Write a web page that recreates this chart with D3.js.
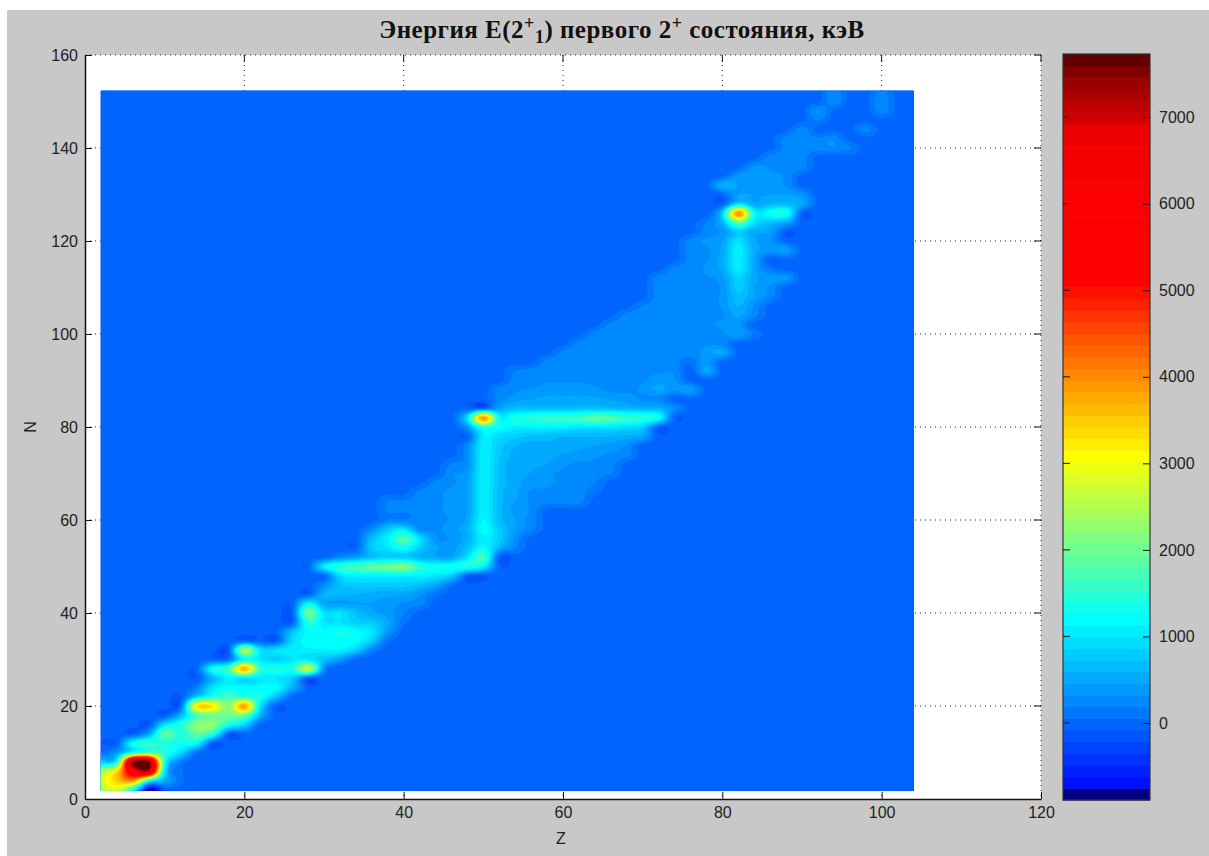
<!DOCTYPE html>
<html>
<head>
<meta charset="utf-8">
<script src="https://cdn.jsdelivr.net/npm/d3@7"></script>
<style>
  html, body { margin: 0; padding: 0; background: #fff; }
  svg { display: block; }
  text { font-family: "Liberation Sans", Arial, sans-serif; fill: #222; }
</style>
</head>
<body>
<div id="chart"></div>
<script>
// even-even nuclei only, so the grid runs in steps of 2
const protons = d3.range(2, 106, 2)
const neutrons = d3.range(2, 154, 2)

// first Z of every row (N = 2, 4, ... 152), the rest of the row is 0
const rowStartZ = [
  2, 2, 2, 2, 2, 2, 6, 8, 10, 12,
  12, 14, 14, 16, 18, 18, 24, 26, 26, 26,
  26, 28, 30, 32, 28, 32, 34, 36, 36, 38,
  38, 38, 42, 44, 46, 46, 48, 46, 48, 46,
  48, 52, 52, 52, 54, 54, 58, 60, 62, 64,
  66, 68, 70, 72, 72, 70, 74, 76, 76, 76,
  78, 78, 78, 80, 80, 80, 82, 84, 86, 88,
  88, 90, 92, 92, 94, 94
]

// E(2+) in keV
const rowEnergy = [
  [2500, 2800, 1400, -850, -100],
  [2800, 3500, 4000, 1500, 600, 100],
  [2400, 3300, 6000, 7000, 1000, 100],
  [800, 1300, 7400, 7500, 1400, 200],
  [100, 400, 1300, 1800, 1500, 900, 100],
  [-80, -40, 1300, 1600, 1400, 1300, 1200, -100],
  [-60, 500, 1900, 1400, 1900, 1500, -50],
  [-100, 1000, 1400, 2235, 2230, 1400, 900, -20],
  [-80, 600, 1700, 2000, 1970, 2000, 600],
  [0, 3300, 3300, 2168, 3900, 1000, -60],
  [-80, 800, 1400, 1700, 1500, 1300, 700],
  [200, 1000, 1200, 1200, 1200, 1200, 600],
  [-80, 600, 1100, 1000, 1000, 1000, 800, -80],
  [1300, 1700, 3832, 1554, 1434, 1408, 2700, 300, -60],
  [100, 1200, 1000, 800, 1000, 1000, 700, 400],
  [-80, 2563, 1000, 1000, 1100, 1100, 1100, 1100, 800, 200],
  [-60, 900, 1200, 1200, 1200, 1200, 800, 100],
  [700, 1200, 1200, 1300, 1200, 1000, 400],
  [-60, 1500, 1000, 1000, 800, 800, 500, 100],
  [-40, 2033, 1000, 1000, 700, 500, 400, 200],
  [-20, 1200, 500, 450, 450, 450, 400, 300, 250],
  [-40, 600, 600, 600, 550, 500, 500, 350, 100],
  [300, 700, 800, 800, 800, 800, 700, 500, 100, -60],
  [900, 1100, 1100, 1100, 1100, 1100, 1000, 800, -40, -80],
  [-20, 1100, 1500, 1700, 1900, 2000, 2186, 1500, 1300, 1300, 1400, 1100, -20],
  [300, 450, 700, 800, 800, 600, 500, 500, 1000, 1700, -80],
  [-20, 800, 1000, 1300, 800, 500, 400, 700, 1200, 600, 200],
  [700, 1100, 1800, 1000, 350, 350, 550, 1100, 800, 300],
  [300, 800, 1000, 300, 300, 400, 600, 1200, 800, 450, 250],
  [200, 200, 250, 250, 350, 500, 1150, 650, 450, 250],
  [200, 200, 250, 300, 350, 450, 1100, 650, 400, 300],
  [200, 200, 250, 300, 350, 450, 1100, 650, 450, 300, 250, 250, 250],
  [250, 300, 350, 450, 1100, 650, 500, 300, 300, 250, 250, 100],
  [250, 300, 450, 1100, 700, 500, 400, 350, 300, 250, 200],
  [300, 400, 1100, 700, 500, 450, 350, 300, 300, 250, 200],
  [200, 300, 1100, 700, 500, 500, 450, 350, 300, 300, 250],
  [300, 1100, 750, 550, 550, 500, 450, 400, 350, 300, 250],
  [-20, 300, 1100, 800, 600, 550, 550, 550, 500, 450, 400, 300],
  [-40, 1100, 900, 800, 700, 700, 600, 600, 600, 600, 550, 500, -40],
  [-20, 400, 1500, 1200, 1100, 1100, 1100, 1100, 1000, 1000, 1000, 900, 800, -40],
  [1000, 4041, 1200, 1400, 1450, 1596, 1576, 1660, 1900, 1800, 1600, 1500, 1300, -20],
  [500, 700, 700, 700, 700, 700, 700, 700, 650, 600, 600, 300],
  [250, 400, 450, 500, 500, 500, 500, 450, 400, 300, 250, -20],
  [250, 300, 350, 400, 400, 400, 350, 300, 300, 350, 500, 350, 450],
  [250, 250, 300, 300, 300, 300, 300, 300, 300, 400, 350],
  [200, 250, 250, 250, 250, 250, 300, 300, 300, 300, 300, -40, 500],
  [250, 250, 250, 250, 250, 250, 250, 300, 250, 100, 400],
  [250, 250, 250, 250, 250, 250, 250, 250, 250, 400, 500],
  [250, 250, 250, 250, 250, 250, 250, 250, 300, 250],
  [250, 250, 250, 250, 250, 250, 250, 250, 300, 450, 150],
  [250, 250, 250, 250, 250, 300, 300, 350, 350],
  [250, 250, 250, 250, 250, 250, 300, 500, 250],
  [200, 250, 250, 250, 250, 350, 600, 300],
  [250, 250, 250, 300, 350, 700, 450, 250],
  [250, 250, 250, 300, 350, 800, 450, 300],
  [0, 250, 250, 250, 300, 400, 850, 500, 400, 400],
  [250, 250, 350, 500, 1050, 500, 150],
  [250, 300, 550, 1050, 500, -60],
  [250, 300, 500, 1100, 550, 400, 450],
  [250, 350, 450, 1000, 500, 350],
  [250, 350, 800, 500, 450, -80],
  [200, 600, 2000, 1000, 700, 500],
  [0, 800, 4085, 1181, 1300, 1400, -40],
  [-40, 900, 500, 600, 650, 500],
  [0, 450, 450, 450, 450, 350],
  [600, 450, 350, 350, 300],
  [400, 400, 350, 300],
  [350, 300, 250, 250],
  [250, 250, 250],
  [250, 250, 250, 300, 200],
  [250, 300, 200, 300],
  [250, 0, 0, 0, 250],
  [200],
  [350, 0, 0, 0, 250],
  [300, 0, 0, 300],
  [300, 0, 0, 250]
]

const xTicks = [0, 20, 40, 60, 80, 100, 120]
const yTicks = [0, 20, 40, 60, 80, 100, 120, 140, 160]
const barTicks = [0, 1000, 2000, 3000, 4000, 5000, 6000, 7000]

// colormap bands, bottom to top
const bandStops = [0, 1, 15, 29, 44, 52, 57, 58, 59, 60, 61, 62, 63]
const bandColors = ['#000080', '#0010ff', '#00ffff', '#ffff00', '#ff0000', '#fa0000', '#ec0000', '#d00000', '#c00000', '#ac0000', '#9a0000', '#800000', '#600000']
const bandCount = 64
const eMin = -890
const eMax = 7730

const width = 1209
const height = 856

const svg = d3.select('#chart').append('svg')
  .attr('width', width)
  .attr('height', height)

svg.append('rect')
  .attr('x', 7).attr('y', 10)
  .attr('width', width - 7).attr('height', height - 10)
  .attr('fill', '#c8c8c8')

const x = d3.scaleLinear().domain([0, 120]).range([85, 1041])
const y = d3.scaleLinear().domain([0, 160]).range([799, 55])
const barY = d3.scaleLinear().domain([eMin, eMax]).range([800, 54])

svg.append('rect')
  .attr('x', x(0)).attr('y', y(160))
  .attr('width', x(120) - x(0)).attr('height', y(0) - y(160))
  .attr('fill', '#fff')

const bandScale = d3.scaleLinear().domain(bandStops).range(bandColors).interpolate(d3.interpolateRgb)
const bandWidth = (eMax - eMin) / bandCount
const bandIndex = d3.range(bandCount)

// dotted grid
const gridStyle = g => g.attr('stroke', '#222').attr('stroke-width', 1).attr('stroke-dasharray', '1,4')
svg.append('g').call(gridStyle)
  .selectAll('line').data(xTicks.slice(1))
  .join('line')
  .attr('x1', d => x(d)).attr('x2', d => x(d))
  .attr('y1', y(160)).attr('y2', y(0))
svg.append('g').call(gridStyle)
  .selectAll('line').data(yTicks.slice(1))
  .join('line')
  .attr('x1', x(0)).attr('x2', x(120))
  .attr('y1', d => y(d)).attr('y2', d => y(d))

// fill the grid, missing nuclei stay 0
const nx = protons.length
const ny = neutrons.length
const grid = new Array(nx * ny).fill(0)
rowEnergy.forEach((row, j) => {
  row.forEach((e, k) => {
    const i = protons.indexOf(rowStartZ[j] + k * 2)
    if (i >= 0) grid[i + j * nx] = e
  })
})

// smooth display of the grid, same look as shading interp in the original
const fine = 4
const mx = (nx - 1) * fine + 1
const my = (ny - 1) * fine + 1
const cell = (i, j) => grid[Math.max(0, Math.min(nx - 1, i)) + Math.max(0, Math.min(ny - 1, j)) * nx]
const cubic = (a, b, c, d, t) => b + 0.5 * t * (c - a + t * (2 * a - 5 * b + 4 * c - d + t * (3 * (b - c) + d - a)))
const fineGrid = new Array(mx * my)
for (let v = 0; v < my; v++) {
  const j = Math.floor(v / fine)
  const tv = v / fine - j
  for (let u = 0; u < mx; u++) {
    const i = Math.floor(u / fine)
    const tu = u / fine - i
    const col = [-1, 0, 1, 2].map(dj => cubic(cell(i - 1, j + dj), cell(i, j + dj), cell(i + 1, j + dj), cell(i + 2, j + dj), tu))
    fineGrid[u + v * mx] = Math.max(eMin, cubic(col[0], col[1], col[2], col[3], tv))
  }
}

svg.append('clipPath').attr('id', 'map-clip')
  .append('rect')
  .attr('x', x(2)).attr('y', y(152.4))
  .attr('width', x(104) - x(2)).attr('height', y(1.7) - y(152.4))

const contours = d3.contours()
  .size([mx, my])
  .thresholds(bandIndex.map(b => eMin + b * bandWidth))(fineGrid)

const toScreen = d3.geoTransform({
  point: function (px, py) {
    this.stream.point(x(2 + (px - 0.5) / fine * 2), y(2 + (py - 0.5) / fine * 2))
  }
})
const path = d3.geoPath(toScreen)

svg.append('rect')
  .attr('x', x(2)).attr('y', y(152.4))
  .attr('width', x(104) - x(2)).attr('height', y(1.7) - y(152.4))
  .attr('fill', bandScale(6))

svg.append('g')
  .attr('clip-path', 'url(#map-clip)')
  .selectAll('path')
  .data(contours)
  .join('path')
  .attr('d', path)
  .attr('fill', (d, i) => bandScale(i))

// axes, only left and bottom are solid
const styleAxis = g => {
  g.selectAll('text').attr('font-size', 16).attr('fill', '#222')
  g.selectAll('line').attr('stroke', '#111')
  g.select('.domain').attr('stroke', '#111').attr('stroke-width', 1.5)
}

svg.append('g')
  .attr('transform', `translate(0,${y(0)})`)
  .call(d3.axisBottom(x).tickValues(xTicks).tickSize(-7).tickSizeOuter(0).tickPadding(8))
  .call(styleAxis)

svg.append('g')
  .attr('transform', `translate(${x(0)},0)`)
  .call(d3.axisLeft(y).tickValues(yTicks).tickSize(-7).tickSizeOuter(0).tickPadding(7))
  .call(styleAxis)

// ticks on the far side of the box
svg.append('g').attr('stroke', '#111')
  .selectAll('line').data(xTicks.slice(1))
  .join('line')
  .attr('x1', d => x(d)).attr('x2', d => x(d))
  .attr('y1', y(160)).attr('y2', y(160) + 7)
svg.append('g').attr('stroke', '#111')
  .selectAll('line').data(yTicks.slice(1))
  .join('line')
  .attr('x1', x(120)).attr('x2', x(120) - 7)
  .attr('y1', d => y(d)).attr('y2', d => y(d))

svg.append('text')
  .attr('x', x(60) - 2).attr('y', 844)
  .attr('text-anchor', 'middle')
  .attr('font-size', 16)
  .text('Z')

svg.append('text')
  .attr('transform', `translate(36,${y(80)}) rotate(-90)`)
  .attr('text-anchor', 'middle')
  .attr('font-size', 16)
  .text('N')

// title with the super and subscripts
const title = svg.append('text')
  .attr('x', 622).attr('y', 38)
  .attr('text-anchor', 'middle')
  .attr('font-size', 25)
  .attr('font-weight', 'bold')
  .style('font-family', '"Liberation Serif", "Times New Roman", serif')
  .style('fill', '#111')
  .style('letter-spacing', '0.5px')
title.append('tspan').text('Энергия E(2')
title.append('tspan').attr('dy', -9).attr('font-size', 18).text('+')
title.append('tspan').attr('dy', 14).attr('font-size', 18).text('1')
title.append('tspan').attr('dy', -5).text(') первого 2')
title.append('tspan').attr('dy', -9).attr('font-size', 18).text('+')
title.append('tspan').attr('dy', 9).text(' состояния, кэВ')

// colorbar
const barLeft = 1063
const barRight = 1150
svg.append('g')
  .selectAll('rect')
  .data(bandIndex)
  .join('rect')
  .attr('x', barLeft)
  .attr('width', barRight - barLeft)
  .attr('y', b => barY(eMin + (b + 1) * bandWidth))
  .attr('height', b => barY(eMin + b * bandWidth) - barY(eMin + (b + 1) * bandWidth) + 0.5)
  .attr('fill', b => bandScale(b))

svg.append('rect')
  .attr('x', barLeft).attr('y', barY(eMax))
  .attr('width', barRight - barLeft).attr('height', barY(eMin) - barY(eMax))
  .attr('fill', 'none')
  .attr('stroke', '#333')
  .attr('stroke-width', 1.2)

const barAxis = svg.append('g')
  .attr('transform', `translate(${barRight},0)`)
  .call(d3.axisRight(barY).tickValues(barTicks).tickFormat(d3.format('d')).tickSize(-7).tickPadding(9).tickSizeOuter(0))
  .call(styleAxis)
barAxis.select('.domain').remove()

svg.append('g').attr('stroke', '#111')
  .selectAll('line').data(barTicks)
  .join('line')
  .attr('x1', barLeft).attr('x2', barLeft + 7)
  .attr('y1', d => barY(d)).attr('y2', d => barY(d))
</script>
</body>
</html>
